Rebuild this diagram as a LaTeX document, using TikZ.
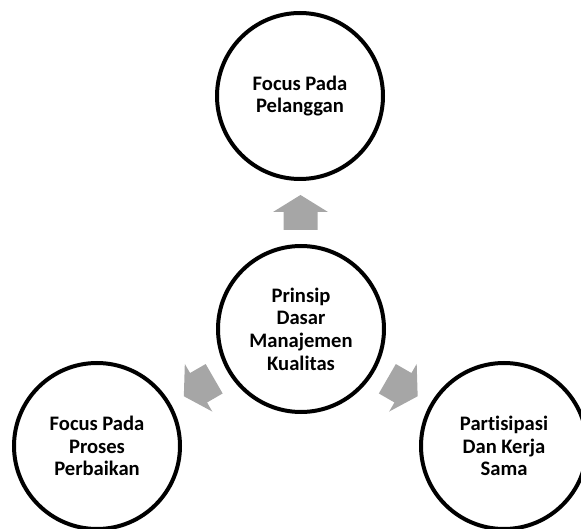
\documentclass[tikz,border=0pt]{standalone}
\usepackage{fontspec}
\setmainfont{Carlito}[Ligatures=NoCommon]
\newcommand\bubfont{\fontsize{20.6}{22.7}\selectfont\bfseries}
\begin{document}
\begin{tikzpicture}[x=1pt,y=-1pt,
  bubble/.style={circle,draw=black,line width=4pt,minimum size=166pt,inner sep=0pt,
    align=center,font=\bubfont,text width=120pt,
    execute at begin node={\spaceskip=4.4pt\relax}},
  grayarrow/.style={fill=arrowgray,draw=none}]
\definecolor{arrowgray}{HTML}{A6A6A6}
\useasboundingbox (0,0) rectangle (581,529);
\node[bubble] (c) at (301,329) {Prinsip\\Dasar\\Manajemen\\Kualitas};
\node[bubble] (t) at (300,96) {Focus Pada\\Pelanggan};
\node[bubble] (l) at (97,446) {Focus Pada\\Proses\\Perbaikan};
\node[bubble] (r) at (504,446) {Partisipasi\\Dan Kerja\\Sama};
\foreach \tgt/\ang in {t/90,l/210,r/-30}{
  \path (c.center) -- (\tgt.center) coordinate[pos=0.5] (m\tgt);
  \fill[grayarrow,shift={(m\tgt)},rotate=\ang]
    (-17.5,-17) -- (0.5,-17) -- (0.5,-27.5) -- (17.5,0) -- (0.5,27.5) -- (0.5,17) -- (-17.5,17) -- cycle;
}
\end{tikzpicture}
\end{document}
